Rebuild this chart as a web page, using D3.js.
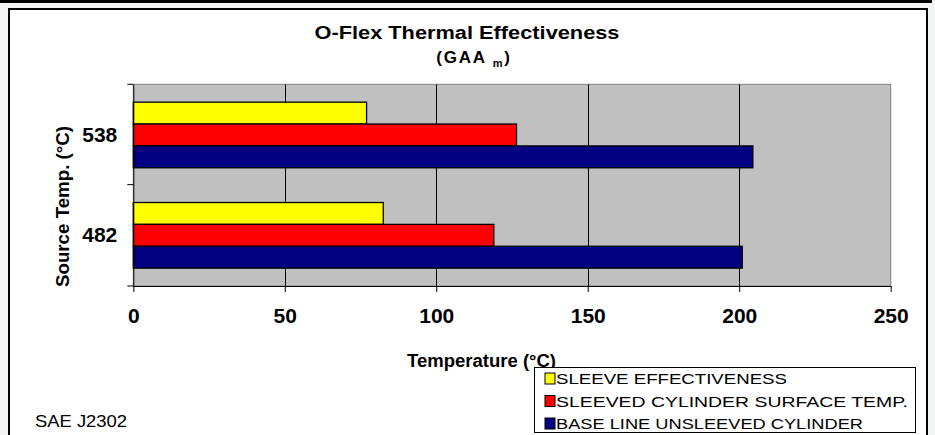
<!DOCTYPE html>
<html>
<head>
<meta charset="utf-8">
<script src="https://cdn.jsdelivr.net/npm/d3@7"></script>
<style>
  html, body { margin: 0; padding: 0; background: #f4f6f6; }
  svg { display: block; font-family: Arial, "Liberation Sans", sans-serif; }
</style>
</head>
<body>
<svg id="chart" width="935" height="435"></svg>
<script>
// data
var categories = ['538', '482'];
var seriesNames = ['SLEEVE EFFECTIVENESS', 'SLEEVED CYLINDER SURFACE TEMP.', 'BASE LINE UNSLEEVED CYLINDER'];
var sleeveEffectiveness = [77, 82.5];
var sleevedSurface = [126.5, 119];
var baseLine = [204.5, 201];
var seriesColors = ['#ffff00', '#ff0000', '#000080'];
var xTicks = [0, 50, 100, 150, 200, 250];

var seriesValues = [sleeveEffectiveness, sleevedSurface, baseLine];

var svg = d3.select('#chart');
var width = 935, height = 435;

var plot = {left: 133.3, right: 890.7, top: 84.3, bottom: 286};

// page background + frame
svg.append('rect').attr('x', 0).attr('y', 0).attr('width', 932).attr('height', 3).attr('fill', '#000');
svg.append('rect')
  .attr('x', 9).attr('y', 9).attr('width', 918).attr('height', 440)
  .attr('fill', '#fff').attr('stroke', '#000').attr('stroke-width', 2);

var x = d3.scaleLinear().domain([0, 250]).range([plot.left, plot.right]);

var y0 = d3.scaleBand().domain(categories)
  .range([plot.top, plot.bottom])
  .paddingInner(0.346).paddingOuter(0.178);

var y1 = d3.scaleBand().domain(seriesNames).range([0, y0.bandwidth()]);

// plot area
svg.append('rect')
  .attr('x', plot.left).attr('y', plot.top)
  .attr('width', plot.right - plot.left).attr('height', plot.bottom - plot.top)
  .attr('fill', '#c0c0c0').attr('stroke', '#808080').attr('stroke-width', 1);

// gridlines
svg.append('g').selectAll('line')
  .data(xTicks.filter(function(d) { return d > 0 && d < 250; }))
  .join('line')
  .attr('x1', function(d) { return Math.round(x(d)) + 0.5; })
  .attr('x2', function(d) { return Math.round(x(d)) + 0.5; })
  .attr('y1', plot.top).attr('y2', plot.bottom)
  .attr('stroke', '#000').attr('stroke-width', 1);

// bars
var rows = [];
categories.forEach(function(c, ci) {
  seriesNames.forEach(function(s, si) {
    rows.push({cat: c, series: s, value: seriesValues[si][ci], color: seriesColors[si]});
  });
});

svg.append('g').selectAll('rect')
  .data(rows)
  .join('rect')
  .attr('x', x(0))
  .attr('y', function(d) { return y0(d.cat) + y1(d.series); })
  .attr('width', function(d) { return x(d.value) - x(0); })
  .attr('height', y1.bandwidth())
  .attr('fill', function(d) { return d.color; })
  .attr('stroke', '#000').attr('stroke-width', 1.3);

// x axis
var xAxis = svg.append('g')
  .attr('transform', 'translate(0,' + plot.bottom + ')')
  .call(d3.axisBottom(x).tickValues(xTicks).tickSize(6).tickPadding(16).tickSizeOuter(0));
xAxis.select('.domain').attr('stroke', '#000');
xAxis.selectAll('.tick line').attr('stroke', '#000');
xAxis.selectAll('.tick text')
  .attr('fill', '#000')
  .style('font-size', '21px').style('font-weight', 'bold')
  .style('font-family', 'Arial, "Liberation Sans", sans-serif');

// y axis: labels in band centres, ticks on band edges
var yAxis = svg.append('g')
  .attr('transform', 'translate(' + plot.left + ',0)')
  .call(d3.axisLeft(y0).tickSize(0).tickPadding(16));
yAxis.select('.domain').attr('stroke', '#000');
yAxis.selectAll('.tick text')
  .attr('fill', '#000')
  .style('font-size', '21px').style('font-weight', 'bold')
  .style('font-family', 'Arial, "Liberation Sans", sans-serif');

var edges = categories.map(function(c) { return y0(c) - y0.step() * y0.paddingOuter(); });
edges.push(plot.bottom);
svg.append('g').selectAll('line')
  .data(edges)
  .join('line')
  .attr('x1', plot.left - 6).attr('x2', plot.left)
  .attr('y1', function(d) { return d; }).attr('y2', function(d) { return d; })
  .attr('stroke', '#000');

// titles
svg.append('text')
  .attr('x', 467).attr('y', 39)
  .attr('text-anchor', 'middle')
  .attr('textLength', 305).attr('lengthAdjust', 'spacingAndGlyphs')
  .style('font-size', '17.5px').style('font-weight', 'bold')
  .text('O-Flex Thermal Effectiveness');

var sub = svg.append('text')
  .attr('x', 474).attr('y', 63)
  .attr('text-anchor', 'middle')
  .style('font-size', '17px').style('font-weight', 'bold')
  .style('letter-spacing', '1.8px');
sub.append('tspan').text('(GAA ');
sub.append('tspan').attr('dy', 4).style('font-size', '11px').text('m');
sub.append('tspan').attr('dy', -4).text(')');

svg.append('text')
  .attr('x', 407).attr('y', 367)
  .attr('textLength', 149).attr('lengthAdjust', 'spacingAndGlyphs')
  .style('font-size', '18px').style('font-weight', 'bold')
  .text('Temperature (°C)');

svg.append('text')
  .attr('transform', 'translate(69,206.5) rotate(-90)')
  .attr('text-anchor', 'middle')
  .attr('textLength', 161).attr('lengthAdjust', 'spacingAndGlyphs')
  .style('font-size', '18px').style('font-weight', 'bold')
  .text('Source Temp. (°C)');

svg.append('text')
  .attr('x', 35).attr('y', 427)
  .attr('textLength', 92).attr('lengthAdjust', 'spacingAndGlyphs')
  .style('font-size', '16.5px')
  .text('SAE J2302');

// legend (drawn over the end of the axis title, as in the original)
var legendLengths = [231, 352, 307];
var legend = svg.append('g');
legend.append('rect')
  .attr('x', 534.5).attr('y', 367.5).attr('width', 381).attr('height', 65)
  .attr('fill', '#fff').attr('stroke', '#000').attr('stroke-width', 1);

var item = legend.selectAll('g.item')
  .data(seriesNames)
  .join('g')
  .attr('class', 'item')
  .attr('transform', function(d, i) { return 'translate(0,' + (378.5 + i * 22.5) + ')'; });

item.append('rect')
  .attr('x', 545).attr('y', -5.5).attr('width', 10).attr('height', 11)
  .attr('fill', function(d, i) { return seriesColors[i]; })
  .attr('stroke', '#000').attr('stroke-width', 1);

item.append('text')
  .attr('x', 556).attr('y', 5.5)
  .attr('textLength', function(d, i) { return legendLengths[i]; })
  .attr('lengthAdjust', 'spacingAndGlyphs')
  .style('font-size', '15.5px')
  .text(function(d) { return d; });
</script>
</body>
</html>
